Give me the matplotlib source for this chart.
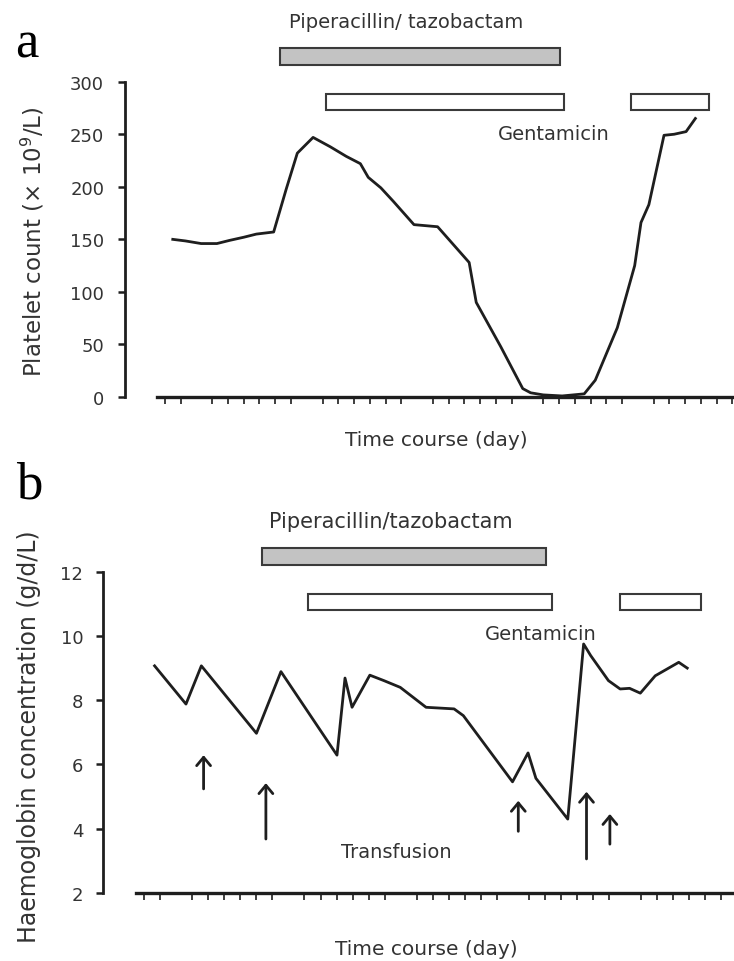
import matplotlib
matplotlib.use("Agg")
import matplotlib.pyplot as plt

# ---- data (x in day units, ticks fall on whole days)
plt_days = [0.5, 1.3, 2.3, 3.3, 4.1, 5.0, 5.8, 6.9, 7.7, 8.4, 9.4, 10.5, 11.5, 12.4,
            12.9, 13.7, 14.5, 15.8, 17.3, 19.3, 19.75, 21.3, 22.7, 23.2, 24.0, 25.2,
            26.6, 27.3, 28.7, 29.8, 30.2, 30.7, 31.66, 32.3, 33.06, 33.65]
plt_count = [150, 148.5, 146, 146, 149, 152, 155, 157, 198, 232, 247, 238, 229, 222,
             209, 199, 186, 164, 162, 128, 90, 48, 8, 4, 2, 1, 3, 16, 66, 125, 166,
             183, 249, 250, 252.5, 265]

hb_days = [0.64, 2.6, 3.56, 7.0, 8.53, 12.03, 12.53, 12.97, 14.08, 14.96, 15.98, 17.59,
           19.34, 19.92, 22.99, 23.96, 24.45, 26.44, 27.43, 27.87, 28.98, 29.71, 30.3,
           30.97, 31.9, 33.37, 33.9]
hb_conc = [9.07, 7.88, 9.07, 6.97, 8.89, 6.29, 8.69, 7.78, 8.78, 8.61, 8.40, 7.78,
           7.73, 7.52, 5.46, 6.36, 5.57, 4.30, 9.75, 9.39, 8.61, 8.35, 8.37, 8.22,
           8.76, 9.18, 9.0]

# drug periods (start, end) in day units
pip_a = (7.3, 25.07)
gent_a = [(10.2, 25.34), (29.57, 34.5)]
pip_b = (7.35, 25.08)
gent_b = [(10.2, 25.47), (29.69, 34.75)]

# transfusions: day, arrow tail, arrow head
tf_days = [3.7, 7.59, 23.35, 27.61, 29.07]
tf_tail = [5.24, 3.68, 3.92, 3.06, 3.52]
tf_head = [6.29, 5.42, 4.87, 5.15, 4.46]

tick_days = [d for d in range(0, 37) if d % 7 != 2]

W, H = 734, 962
SANS = ["DejaVu Sans"]
SERIF = ["Liberation Serif", "DejaVu Serif"]
TXT = "#333333"
LINE = "#1e1e1e"

plt.rcParams["font.family"] = SANS

fig = plt.figure(figsize=(W / 100, H / 100), dpi=100)


def px_axes(left, right, top, bottom):
    return fig.add_axes([left / W, 1 - bottom / H, (right - left) / W, (bottom - top) / H])


def px_text(x, y, s, **kw):
    fig.text(x / W, 1 - y / H, s, **kw)


def style_axes(ax, xlim, ylim, yticks, pad):
    ax.set_yticks(yticks)
    ax.set_xticks(tick_days)
    ax.set_xticklabels([])
    ax.set_xlim(*xlim)
    ax.set_ylim(*ylim)
    for s in ("top", "right"):
        ax.spines[s].set_visible(False)
    ax.spines["left"].set_linewidth(2.0)
    ax.spines["left"].set_color(LINE)
    ax.spines["bottom"].set_linewidth(2.4)
    ax.spines["bottom"].set_color(LINE)
    ax.spines["bottom"].set_bounds(-0.5, xlim[1])
    ax.tick_params(axis="y", direction="out", length=5, width=1.8, color=LINE,
                   labelsize=13, labelcolor=TXT, pad=pad)
    ax.tick_params(axis="x", direction="out", length=5, width=1.2, color=LINE)
    ax.patch.set_alpha(0)


def drug_bars(ax, pip, gent, y_pip, h_pip, y_gent, h_gent):
    ax.barh(y_pip, pip[1] - pip[0], left=pip[0], height=h_pip, color="#c3c3c3",
            edgecolor="#3a3a3a", linewidth=1.5, clip_on=False)
    for s, e in gent:
        ax.barh(y_gent, e - s, left=s, height=h_gent, color="white",
                edgecolor="#3a3a3a", linewidth=1.5, clip_on=False)


# ---------------- panel a
ax1 = px_axes(125, 734, 82.7, 398)
style_axes(ax1, (-2.53, 36.1), (0, 300), range(0, 301, 50), 10)
ax1.plot(plt_days, plt_count, color=LINE, lw=2.0, clip_on=False, zorder=3)
drug_bars(ax1, pip_a, gent_a, 323.9, 15.9, 280.5, 15.5)

px_text(27, 44, "a", family=SERIF, fontsize=38, ha="center", va="center")
px_text(33, 242, "Platelet count (× 10$^{9}$/L)", fontsize=16.5, color=TXT,
        rotation=90, ha="center", va="center")
px_text(406, 23, "Piperacillin/ tazobactam", fontsize=14, color=TXT, ha="center", va="center")
px_text(554, 134, "Gentamicin", fontsize=14, color=TXT, ha="center", va="center")
px_text(436, 440, "Time course (day)", fontsize=14.5, color=TXT, ha="center", va="center")

# ---------------- panel b
ax2 = px_axes(102.7, 734, 572.7, 894)
style_axes(ax2, (-2.6, 36.82), (2, 12), range(2, 13, 2), 9)
ax2.plot(hb_days, hb_conc, color=LINE, lw=2.0, clip_on=False, zorder=3)
drug_bars(ax2, pip_b, gent_b, 12.47, 0.51, 11.06, 0.5)
for d, t, h in zip(tf_days, tf_tail, tf_head):
    ax2.annotate("", xy=(d, h), xytext=(d, t),
                 arrowprops=dict(arrowstyle="->,head_length=0.6,head_width=0.5",
                                 lw=2.0, color=LINE, shrinkA=0, shrinkB=0))

px_text(29, 486, "b", family=SERIF, fontsize=38, ha="center", va="center")
px_text(29, 737, "Haemoglobin concentration (g/d/L)", fontsize=17, color=TXT,
        rotation=90, ha="center", va="center")
px_text(391, 522, "Piperacillin/tazobactam", fontsize=15, color=TXT, ha="center", va="center")
px_text(541, 635, "Gentamicin", fontsize=14, color=TXT, ha="center", va="center")
px_text(396, 852, "Transfusion", fontsize=14, color=TXT, ha="center", va="center")
px_text(426, 950, "Time course (day)", fontsize=14.5, color=TXT, ha="center", va="center")

fig.savefig("out.png", dpi=100)
